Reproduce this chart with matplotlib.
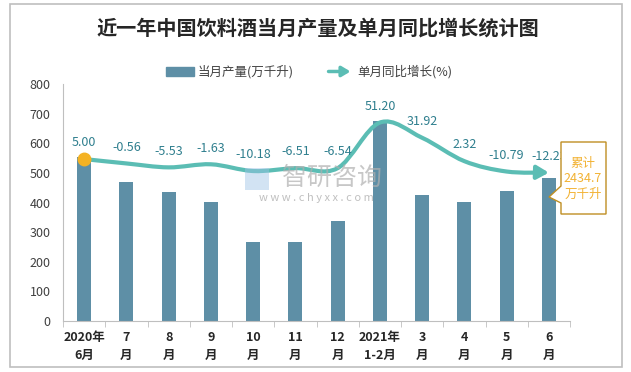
import numpy as np
import matplotlib
matplotlib.use("Agg")
import matplotlib.pyplot as plt
from matplotlib.path import Path
from matplotlib.patches import FancyArrowPatch, Polygon, Rectangle, Patch
from matplotlib.legend_handler import HandlerBase

plt.rcParams['font.family'] = ['Noto Sans CJK SC', 'DejaVu Sans']

# data
months = ['2020年\n6月', '7\n月', '8\n月', '9\n月', '10\n月', '11\n月', '12\n月',
          '2021年\n1-2月', '3\n月', '4\n月', '5\n月', '6\n月']
output = [552, 470, 436, 402, 267, 267, 338, 676, 424, 401, 438, 484]
growth = [5.00, -0.56, -5.53, -1.63, -10.18, -6.51, -6.54, 51.20, 31.92, 2.32, -10.79, -12.23]
total_2021 = 2434.7

bar_color = '#5E8FA6'
line_color = '#5BBDB4'
label_color = '#2F7F8E'

W, H = 631, 372


def fx(px):
    return px / W


def fy(py):
    return 1 - py / H


fig = plt.figure(figsize=(W / 100, H / 100), dpi=100)
fig.patch.set_facecolor('white')
ax = fig.add_axes([fx(63), fy(321), fx(570) - fx(63), fy(84) - fy(321)])

x = np.arange(len(months))
ax.bar(x, output, width=0.33, color=bar_color, zorder=2)
ax.set_xlim(-0.5, len(months) - 0.5)
ax.set_ylim(0, 800)
ax.set_yticks(range(0, 801, 100))
ax.tick_params(axis='y', length=0, labelsize=9, colors='#404040', pad=9)
ax.set_xticks(x)
ax.set_xticklabels(months, fontsize=9, fontweight='bold', color='#262626', linespacing=1.5)
ax.set_xticks(np.arange(-0.5, len(months), 1), minor=True)
ax.tick_params(axis='x', which='major', length=0, pad=7)
ax.tick_params(axis='x', which='minor', length=4, color='#BFBFBF')
for s in ['top', 'right']:
    ax.spines[s].set_visible(False)
for s in ['left', 'bottom']:
    ax.spines[s].set_color('#BFBFBF')

# growth line on hidden secondary axis
ax2 = ax.twinx()
ax2.set_ylim(-200, 100)
ax2.axis('off')

pts = list(zip(x.astype(float), growth))
verts = [pts[0]]
codes = [Path.MOVETO]
n = len(pts)
for i in range(n - 1):
    p0 = np.array(pts[max(i - 1, 0)])
    p1 = np.array(pts[i])
    p2 = np.array(pts[i + 1])
    p3 = np.array(pts[min(i + 2, n - 1)])
    c1 = p1 + (p2 - p0) / 6
    c2 = p2 - (p3 - p1) / 6
    verts += [tuple(c1), tuple(c2), tuple(p2)]
    codes += [Path.CURVE4] * 3

curve = FancyArrowPatch(path=Path(verts, codes), arrowstyle='-|>,head_length=7,head_width=4',
                        mutation_scale=1, lw=3, color=line_color, zorder=3)
ax2.add_patch(curve)
ax2.plot(0, growth[0], 'o', color='#F4B223', ms=9, zorder=4)

for i, v in enumerate(growth):
    ax2.annotate(f'{v:.2f}', (i, v), xytext=(0, 7), textcoords='offset points',
                 ha='center', va='bottom', fontsize=9, color=label_color, zorder=5)

# title
fig.text(fx(318), fy(28), '近一年中国饮料酒当月产量及单月同比增长统计图', ha='center', va='center',
         fontsize=14.5, fontweight='bold', color='#262626')


# legend
class ArrowHandler(HandlerBase):
    def create_artists(self, legend, orig, xdescent, ydescent, width, height, fontsize, trans):
        y = height / 2 - ydescent
        a = FancyArrowPatch((-xdescent, y), (width - xdescent, y), arrowstyle='-|>,head_length=5,head_width=3',
                            mutation_scale=1, lw=2.5, color=line_color, transform=trans)
        return [a]


bar_handle = Patch(color=bar_color)
line_handle = Patch(color=line_color)
fig.legend([bar_handle, line_handle], ['当月产量(万千升)', '单月同比增长(%)'],
           handler_map={line_handle: ArrowHandler()}, loc='center',
           bbox_to_anchor=(fx(309), fy(72)), ncol=2, frameon=False, fontsize=9,
           handlelength=2.2, handleheight=0.8, columnspacing=2.6, handletextpad=0.3,
           labelcolor='#404040')

# callout box
box = [(561, 142), (606, 142), (606, 214), (561, 214), (561, 203), (549, 197), (561, 186)]
fig.add_artist(Polygon([(fx(a), fy(b)) for a, b in box], closed=True, transform=fig.transFigure,
                       fc='white', ec='#BF8E22', lw=1, zorder=6))
fig.text(fx(583), fy(179), f'累计\n{total_2021}\n万千升', ha='center', va='center', fontsize=9,
         color='#F2B233', linespacing=1.25, zorder=7)

# watermark
fig.add_artist(Rectangle((fx(245), fy(190)), fx(24), fy(168) - fy(190), transform=fig.transFigure,
                         fc='#9CC3E6', ec='none', alpha=0.45, zorder=1))
fig.text(fx(332), fy(178), '智研咨询', ha='center', va='center', fontsize=18,
         color='#B0B0B0', alpha=0.7, zorder=1)
fig.text(fx(316), fy(198), 'w w w . c h y x x . c o m', ha='center', va='center', fontsize=8,
         color='#B0B0B0', alpha=0.8, zorder=1)

# outer border
fig.add_artist(Rectangle((fx(10), fy(367)), fx(622) - fx(10), fy(4) - fy(367),
                         transform=fig.transFigure, fill=False, ec='#BFBFBF', lw=1.2))

fig.savefig('out.png', dpi=100)
